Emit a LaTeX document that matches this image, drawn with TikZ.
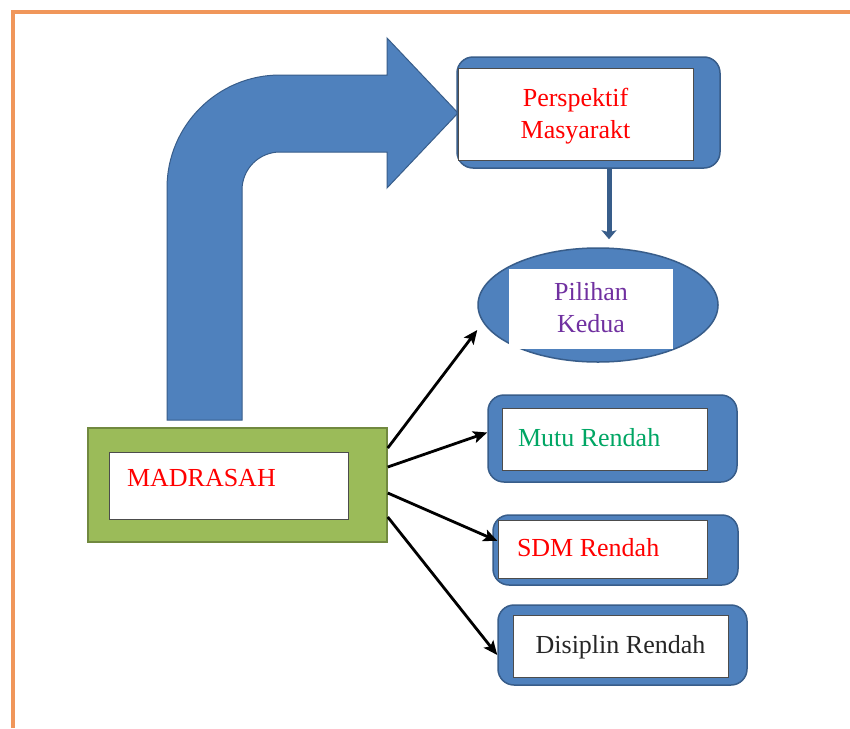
\documentclass[tikz,border=0pt]{standalone}
\usepackage{fontspec}
\setmainfont{Liberation Serif}
\usetikzlibrary{arrows.meta,shapes.geometric}
\definecolor{officeblue}{RGB}{79,129,189}
\definecolor{blueedge}{RGB}{56,93,138}
\definecolor{officegreen}{RGB}{155,187,89}
\definecolor{greenedge}{RGB}{113,137,63}
\definecolor{frameorange}{RGB}{240,150,90}
\definecolor{mutugreen}{RGB}{0,166,100}
\definecolor{pilpurple}{RGB}{112,48,160}
\begin{document}
\begin{tikzpicture}
[x=1pt,y=-1pt,every node/.style={font=\fontsize{26}{32}\selectfont},
 backbox/.style={draw=blueedge,line width=1.5pt,fill=officeblue,rounded corners=16pt,inner sep=0pt},
 whitebox/.style={draw=black!70,line width=1pt,fill=white,inner sep=0pt,text depth=.22em},
 madbox/.style={draw=greenedge,line width=1.5pt,fill=officegreen,inner sep=0pt},
 thinarrow/.style={line width=2.8pt,-{Stealth[length=14pt,width=12pt,inset=3pt]}}]
\useasboundingbox[fill=white] (0,0) rectangle (850,728);
\draw[frameorange,line width=3.5pt] (13,728) -- (13,12) -- (850,12);

% bent arrow
\fill[officeblue,draw=blueedge,line width=1pt] (167,420) -- (167,188)
  arc[start angle=180,end angle=270,radius=113] -- (387,75) -- (387,38)
  -- (458,113) -- (387,188) -- (387,152) -- (280,152)
  arc[start angle=270,end angle=180,radius=38] -- (242,420) -- cycle;

\node[backbox,minimum width=263pt,minimum height=111pt] (perspBack) at (588.5,112.5) {};
\node[whitebox,minimum width=235pt,minimum height=92pt,align=center,text=red] (persp) at (575.5,114) {Perspektif\\Masyarakt};

\node[ellipse,draw=blueedge,line width=1.5pt,fill=officeblue,minimum width=240pt,minimum height=114pt,inner sep=0pt] (pil) at (598,305) {};
\node[whitebox,draw=none,minimum width=164pt,minimum height=80pt,align=center,text=pilpurple] (pilWhite) at (591,309) {Pilihan\\Kedua};

\node[madbox,minimum width=299pt,minimum height=114pt] (madBack) at (237.5,485) {};
\node[whitebox,minimum width=239pt,inner xsep=18pt,inner ysep=8pt,text width=203pt,align=flush left,text height=26pt,text depth=25pt,text=red] (mad) at (228.5,485.5) {MADRASAH};

\node[backbox,minimum width=249pt,minimum height=87pt] (mutuBack) at (612.5,438.5) {};
\node[whitebox,minimum height=62pt,inner xsep=16pt,text width=173pt,align=flush left,text=mutugreen] (mutu) at (604.5,439) {Mutu Rendah};

\node[backbox,minimum width=245pt,minimum height=70pt] (sdmBack) at (615.5,550) {};
\node[whitebox,minimum height=58pt,inner xsep=19pt,text width=171pt,align=flush left,text=red] (sdm) at (602.5,549) {SDM Rendah};

\node[backbox,minimum width=249pt,minimum height=80pt] (disBack) at (622.5,645) {};
\node[whitebox,minimum width=215pt,minimum height=62pt,text=black!85] (dis) at (620.5,646) {Disiplin Rendah};

\draw[blueedge,line width=5pt,-{Stealth[length=9pt,width=15pt,inset=2pt]}] ([xshift=20.5pt]perspBack.south) -- ([xshift=11pt,yshift=8pt]pil.north);

\foreach \a/\to/\b in {37/pil.west/-25,18/mutuBack.west/6,-8/sdm.west/8,-32/disBack.west/-10}
\draw[thinarrow] ([yshift=\a pt]madBack.east) -- ([yshift=\b pt]\to);
\end{tikzpicture}
\end{document}
